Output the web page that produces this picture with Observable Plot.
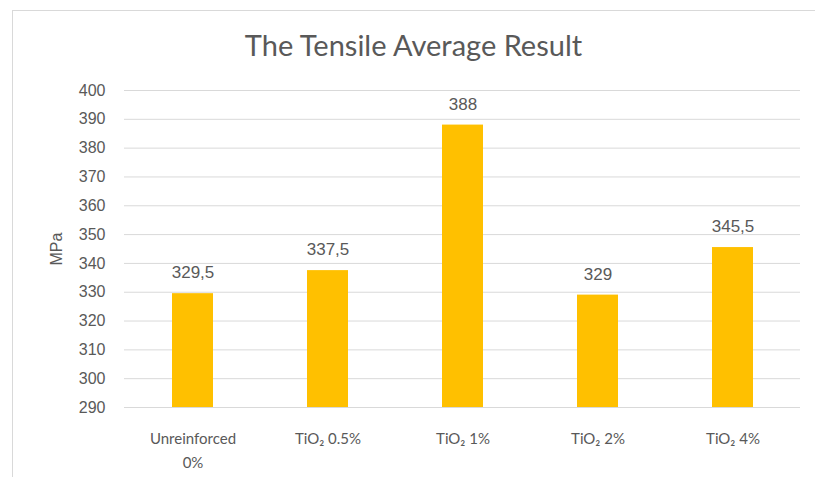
<!DOCTYPE html>
<html>
<head>
<meta charset="utf-8">
<script src="https://cdn.jsdelivr.net/npm/d3@7"></script>
<script src="https://cdn.jsdelivr.net/npm/@observablehq/plot@0.6"></script>
<style>
  html, body { margin: 0; padding: 0; background: #fff; }
  #wrap { position: relative; width: 815px; height: 477px; overflow: hidden; }
  #frame { position: absolute; left: 12px; top: 10px; width: 820px; height: 480px; border: 1px solid #d9d9d9; box-sizing: border-box; }
  #title { position: absolute; left: 12px; right: 0; top: 27px; text-align: center; font-family: Lato, "Open Sans", sans-serif; font-size: 29px; line-height: 36px; color: #595959; }
  #chart { position: absolute; left: 0; top: 70px; }
</style>
</head>
<body>
<div id="wrap">
  <div id="frame"></div>
  <div id="title">The Tensile Average Result</div>
  <div id="chart"></div>
</div>
<script>
const categories = ["Unreinforced 0%", "TiO2 0.5%", "TiO2 1%", "TiO2 2%", "TiO2 4%"];
const tickLabels = ["Unreinforced\n0%", "TiO\u2082 0.5%", "TiO\u2082 1%", "TiO\u2082 2%", "TiO\u2082 4%"];
const values = [329.5, 337.5, 388, 329, 345.5];
const valueLabels = ["329,5", "337,5", "388", "329", "345,5"];
const yTicks = [290, 300, 310, 320, 330, 340, 350, 360, 370, 380, 390, 400];

const data = categories.map((c, i) => ({cat: c, value: values[i], label: valueLabels[i]}));
const tickMap = new Map(categories.map((c, i) => [c, tickLabels[i]]));

const chart = Plot.plot({
  width: 815,
  height: 407,
  marginTop: 20,
  marginBottom: 70,
  marginLeft: 124,
  marginRight: 15,
  style: {fontFamily: "'Liberation Sans', Arial, sans-serif", fontSize: "16px", color: "#595959", background: "transparent"},
  x: {domain: categories, paddingInner: 0.7, paddingOuter: 0.35},
  y: {domain: [290, 400]},
  marks: [
    Plot.gridY(yTicks, {stroke: "#d9d9d9", strokeOpacity: 1, strokeWidth: 1}),
    Plot.barY(data, {x: "cat", y1: 290, y2: "value", fill: "#FFC000"}),
    Plot.text(data, {x: "cat", y: "value", text: "label", dy: -21, fill: "#595959", fontSize: 17}),
    Plot.axisY(yTicks, {tickSize: 0, tickPadding: 19, fontSize: 16, fill: "#595959", label: "MPa", labelAnchor: "center", labelArrow: false, labelOffset: 74}),
    Plot.axisX({tickSize: 0, tickPadding: 19, tickFormat: d => tickMap.get(d), fontSize: 15, lineHeight: 1.6, fill: "#595959", fontFamily: "Lato, 'Open Sans', sans-serif", label: null})
  ]
});
document.getElementById("chart").appendChild(chart);
</script>
</body>
</html>
